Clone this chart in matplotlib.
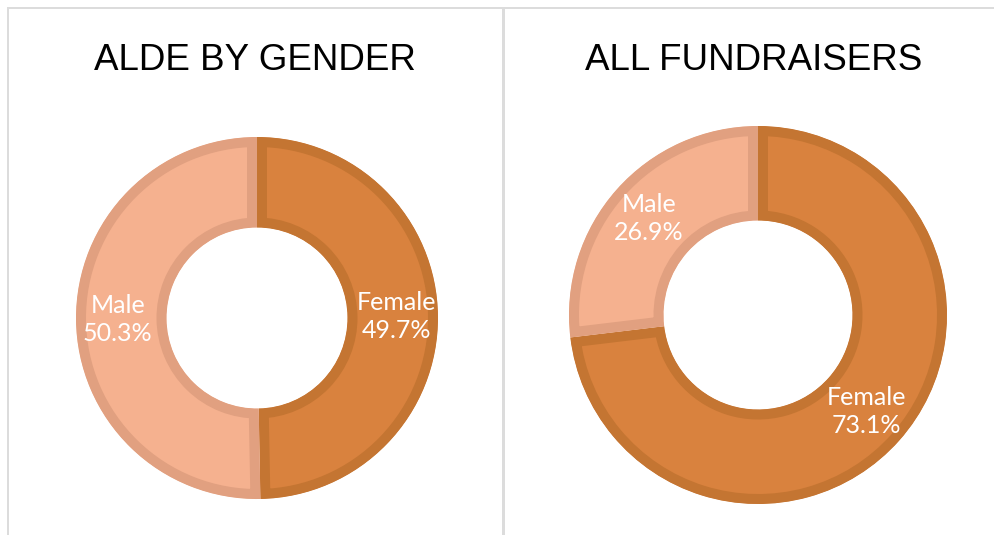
import numpy as np
import matplotlib
matplotlib.use("Agg")
import matplotlib.pyplot as plt
from matplotlib.lines import Line2D

# veriler
titles = ["ALDE BY GENDER", "ALL FUNDRAISERS"]
categories = ["Female", "Male"]
alde_values = [49.7, 50.3]
fundraiser_values = [73.1, 26.9]

fill_colors = ["#D9823E", "#F5B18F"]
edge_colors = ["#C47532", "#E1A080"]

W, H = 994, 535
fig = plt.figure(figsize=(W / 100, H / 100), dpi=100)
fig.patch.set_facecolor("white")

# cerceve cizgileri (piksel -> figur koordinati)
def px(x, y):
    return x / W, 1 - y / H

frame_col = "#DCDCDC"
for (x0, y0, x1, y1, lw) in [(8, 8, W, 8, 2), (8, 8, 8, H, 2), (503.5, 8, 503.5, H, 3)]:
    a, b = px(x0, y0)
    c, d = px(x1, y1)
    fig.add_artist(Line2D([a, c], [b, d], color=frame_col, lw=lw * 0.72))

title_font = ["Liberation Sans Narrow", "Liberation Sans", "DejaVu Sans"]
label_font = ["Lato", "Liberation Sans", "DejaVu Sans"]

# (merkez x, merkez y, dis yaricap) piksel
donuts = [(257, 318, 181, alde_values, 255), (758, 315, 189, fundraiser_values, 754)]

for i, (cx, cy, R, vals, tx) in enumerate(donuts):
    pad = 1.05
    half = R * pad
    ax = fig.add_axes([(cx - half) / W, (H - cy - half) / H, 2 * half / W, 2 * half / H])
    wedges, _ = ax.pie(vals, colors=fill_colors, startangle=90, counterclock=False,
                       radius=1, wedgeprops=dict(width=0.5, linewidth=0))
    ax.set_xlim(-pad, pad)
    ax.set_ylim(-pad, pad)
    ax.set_aspect("equal")
    ax.axis("off")
    # ic kenarlik: kalin cizgi, dilimin kendisine kirpiliyor
    border_px = 10
    for w, ec in zip(wedges, edge_colors):
        w.set_edgecolor(ec)
        w.set_linewidth(2 * border_px * 0.72)
        w.set_clip_path(w)
        w.set_clip_on(True)
    # etiketler
    for w, cat, v in zip(wedges, categories, vals):
        ang = np.deg2rad((w.theta1 + w.theta2) / 2)
        d = 0.77
        ax.text(d * np.cos(ang), d * np.sin(ang), f"{cat}\n{v:.1f}%", color="white",
                ha="center", va="center", fontsize=18, family=label_font, linespacing=1.25)

    fx, fy = px(tx, 70)
    fig.text(fx, fy, titles[i], ha="center", va="baseline", fontsize=26.5, family=title_font)

fig.savefig("out.png", dpi=100)
